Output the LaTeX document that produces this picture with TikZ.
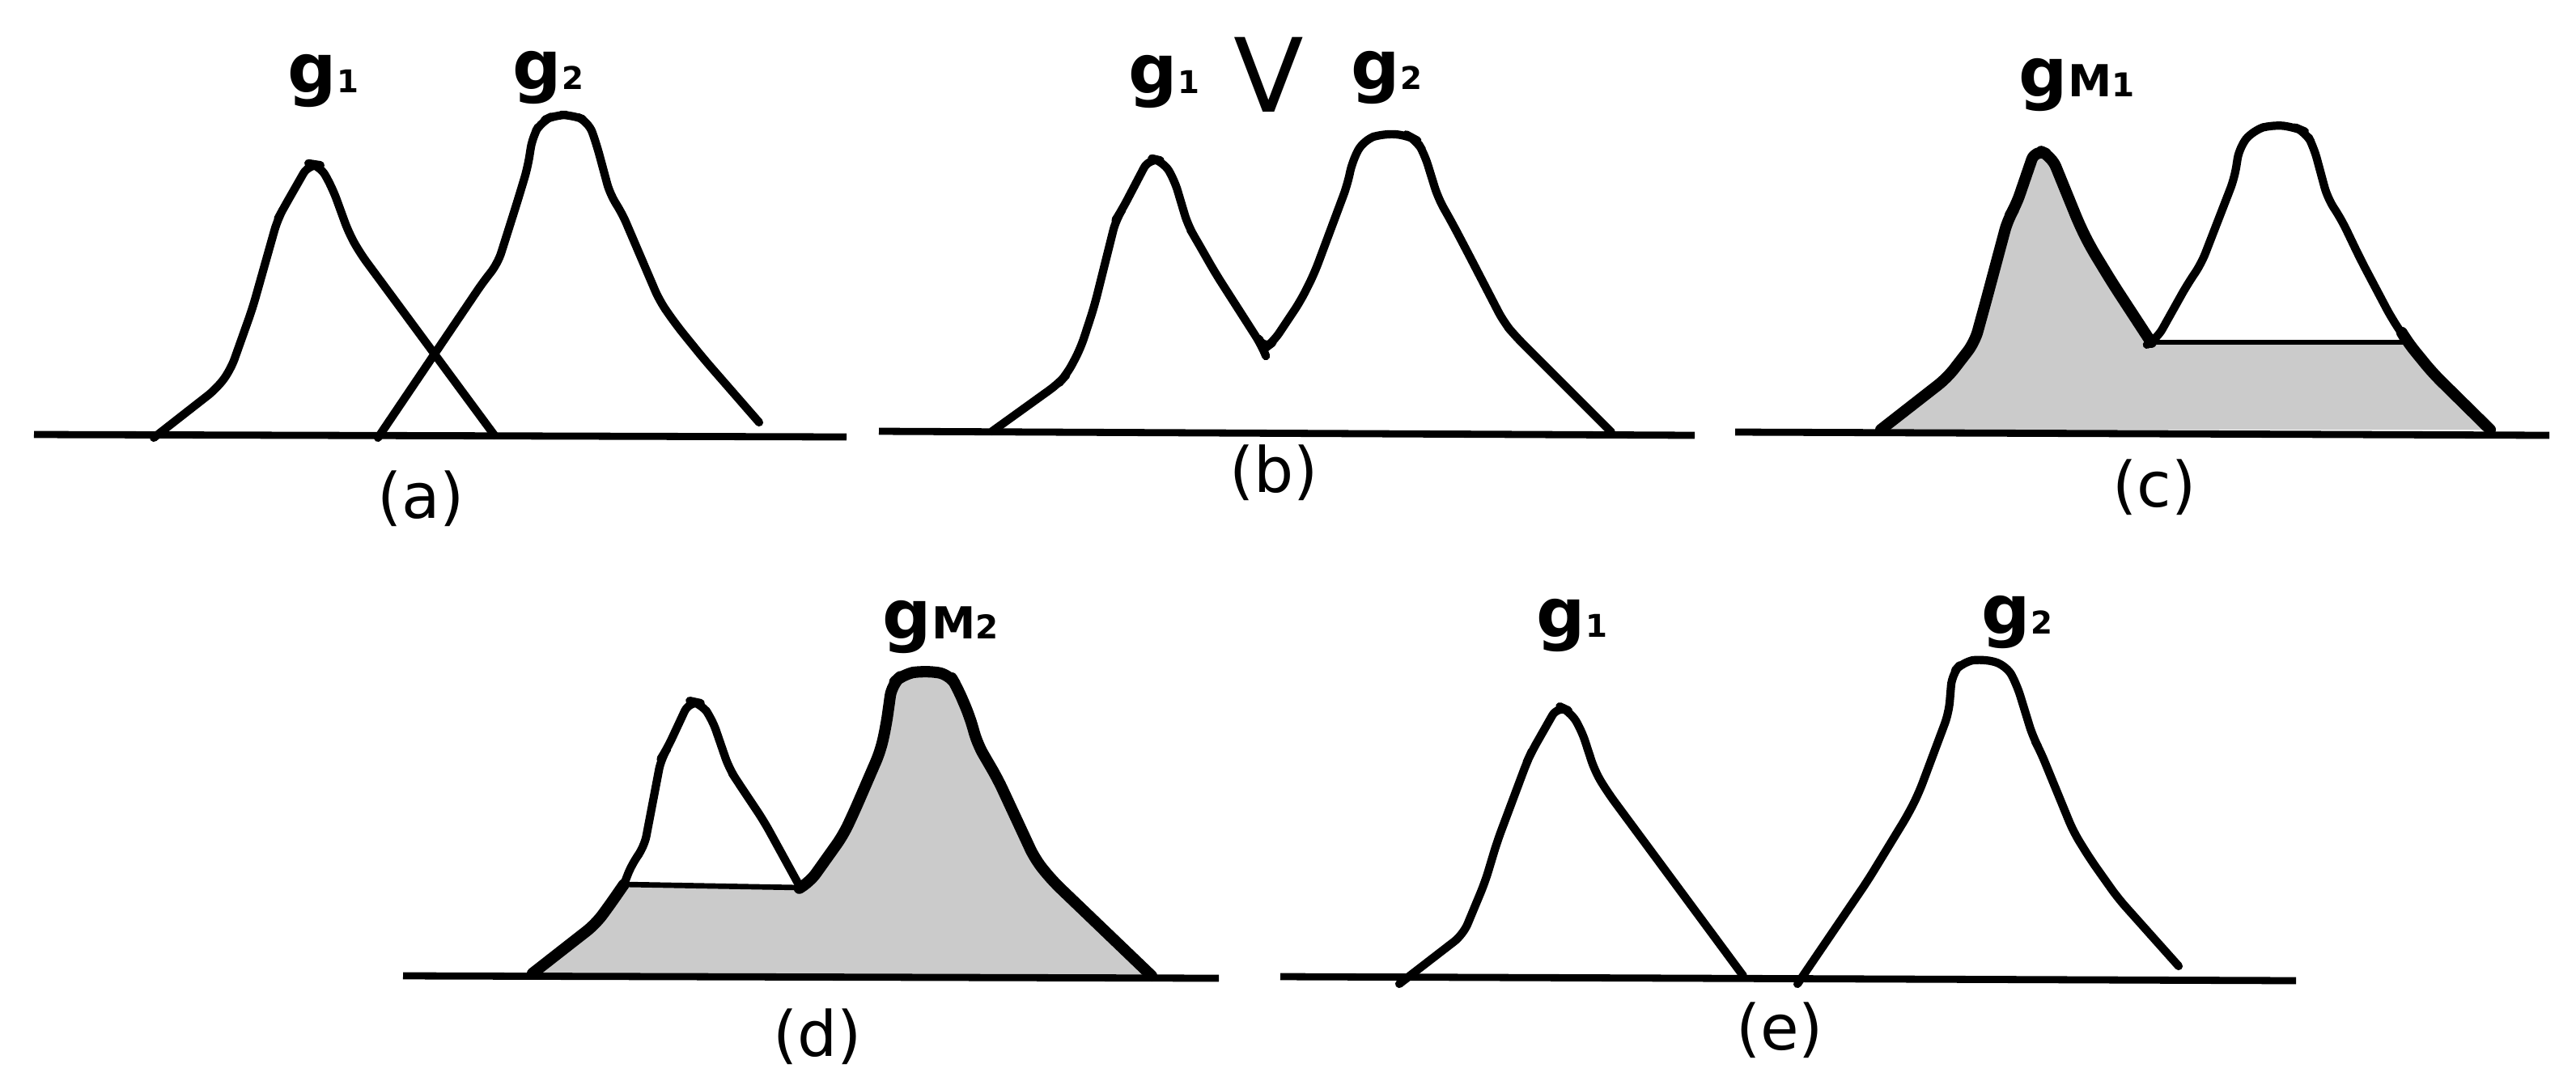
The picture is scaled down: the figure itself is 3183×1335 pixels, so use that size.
\documentclass[tikz,border=0pt]{standalone}
\usepackage{fontspec}
\setmainfont{DejaVu Sans}
\definecolor{fillg}{RGB}{203,203,203}
\newcommand{\gl}[1]{{\fontsize{24}{28}\selectfont g}{\fontsize{11}{13}\selectfont #1}}
\newcommand{\gml}[1]{{\fontsize{24}{28}\selectfont g}{\fontsize{15.5}{18}\selectfont M}{\fontsize{11.5}{13}\selectfont #1}}
\begin{document}
\begin{tikzpicture}[x=0.01cm,y=-0.01cm,
  curve/.style={line width=2.9pt,line join=round,line cap=round,rounded corners=4pt},
  thickcurve/.style={line width=4pt,line join=round,line cap=round,rounded corners=4pt},
  baseln/.style={line width=2.5pt},
  cutline/.style={line width=1.9pt},
  glabel/.style={anchor=base west,inner sep=0pt,font=\bfseries},
  caption/.style={inner sep=0pt,font=\fontsize{22}{26}\selectfont}]
\useasboundingbox (0,0) rectangle (3183,1335);

% ---------- (a) ----------
\draw[baseln] (42,537) -- (1046,540);
\draw[curve] (190,541) -- (268,480) -- (285,457) -- (312,381) -- (343,271) -- (350,258) -- (382,202) -- (395,204) -- (411,233) -- (431,288) -- (445,313) -- (476,355) -- (611,538);
\draw[curve] (467,541) -- (598,347) -- (615,326) -- (639,250) -- (652,207) -- (658,169) -- (669,150) -- (686,142) -- (707,142) -- (727,150) -- (737,178) -- (754,241) -- (768,262) -- (815,372) -- (836,402) -- (870,444) -- (938,522);
\node[glabel] (a1) at (355,114) {\gl{1}};
\node[glabel] (a2) at (633,110) {\gl{2}};
\node[caption] (capa) at (520,616) {(a)};

% ---------- (b) ----------
\draw[baseln] (1086,533) -- (2094,538);
\draw[curve] (1226,533) -- (1308,474) -- (1318,463) -- (1335,431) -- (1352,379) -- (1379,271) -- (1386,260) -- (1420,195) -- (1437,199) -- (1451,222) -- (1468,279) -- (1478,296) -- (1502,338) -- (1559,427) -- (1561,432) -- (1573,423) -- (1607,372) -- (1624,338) -- (1665,228) -- (1671,199) -- (1685,173) -- (1709,165) -- (1739,167) -- (1750,173) -- (1760,190) -- (1777,245) -- (1794,275) -- (1814,313) -- (1858,398) -- (1872,415) -- (1991,534);
\node[glabel] (b1) at (1394,115) {\gl{1}};
\node[anchor=base west,inner sep=0pt,font=\fontsize{36}{40}\selectfont] (bor) at (1524,138) {V};
\node[glabel] (b2) at (1669,110) {\gl{2}};
\node[caption] (capb) at (1574,584) {(b)};

% ---------- (c) ----------
\fill[fillg] (2324,531) -- (2406,467) -- (2440,423) -- (2454,372) -- (2481,271) -- (2491,254) -- (2515,184) -- (2535,193) -- (2570,279) -- (2583,305) -- (2611,351) -- (2658,423)
  -- (2975,423) -- (3006,461) -- (3077,531) -- cycle;
\draw[curve] (2658,423) -- (2665,419) -- (2703,351) -- (2720,326) -- (2761,220) -- (2767,182) -- (2784,161) -- (2808,154) -- (2835,157) -- (2849,163) -- (2859,182) -- (2876,245) -- (2893,271) -- (2917,321) -- (2955,393) -- (2975,423);
\draw[thickcurve] (2324,531) -- (2406,467) -- (2440,423) -- (2454,372) -- (2481,271) -- (2491,254) -- (2515,184) -- (2535,193) -- (2570,279) -- (2583,305) -- (2611,351) -- (2658,423);
\draw[thickcurve] (2972,418) -- (2975,423) -- (3006,461) -- (3077,531);
\draw[cutline] (2658,423) -- (2975,423);
\draw[baseln] (2144,534) -- (3150,538);
\node[glabel] (c1) at (2494,119) {\gml{1}};
\node[caption] (capc) at (2662,602) {(c)};

% ---------- (d) ----------
\fill[fillg] (658,1203) -- (736,1142) -- (753,1119) -- (771,1093)
  -- (989,1097) -- (1000,1091) -- (1042,1032) -- (1056,1002) -- (1088,928) -- (1095,896) -- (1102,846) -- (1116,833) -- (1141,829) -- (1173,833) -- (1183,850) -- (1198,885) -- (1208,920) -- (1233,963) -- (1279,1062) -- (1300,1088) -- (1423,1206) -- cycle;
\draw[curve] (771,1093) -- (781,1067) -- (796,1047) -- (817,937) -- (824,926) -- (852,866) -- (866,869) -- (880,889) -- (901,950) -- (912,967) -- (944,1015) -- (989,1097);
\draw[thickcurve] (658,1203) -- (736,1142) -- (753,1119) -- (771,1093);
\draw[thickcurve] (989,1097) -- (1000,1091) -- (1042,1032) -- (1056,1002) -- (1088,928) -- (1095,896) -- (1102,846) -- (1116,833) -- (1141,829) -- (1173,833) -- (1183,850) -- (1198,885) -- (1208,920) -- (1233,963) -- (1279,1062) -- (1300,1088) -- (1423,1206);
\draw[cutline] (771,1093) -- (989,1097);
\draw[baseln] (498,1206) -- (1506,1209);
\node[glabel] (d1) at (1090,789) {\gml{2}};
\node[caption] (capd) at (1010,1281) {(d)};

% ---------- (e) ----------
\draw[baseln] (1582,1207) -- (2837,1212);
\draw[curve] (1729,1216) -- (1808,1155) -- (1835,1090) -- (1850,1040) -- (1887,941) -- (1892,930) -- (1925,872) -- (1940,879) -- (1954,902) -- (1971,954) -- (1987,980) -- (2154,1206);
\draw[curve] (2221,1216) -- (2308,1088) -- (2358,1006) -- (2371,980) -- (2408,881) -- (2412,833) -- (2425,818) -- (2450,814) -- (2479,822) -- (2492,846) -- (2512,911) -- (2521,928) -- (2562,1028) -- (2583,1062) -- (2617,1110) -- (2692,1194);
\node[glabel] (e1) at (1898,787) {\gl{1}};
\node[glabel] (e2) at (2448,783) {\gl{2}};
\node[caption] (cape) at (2199,1273) {(e)};
\end{tikzpicture}
\end{document}
